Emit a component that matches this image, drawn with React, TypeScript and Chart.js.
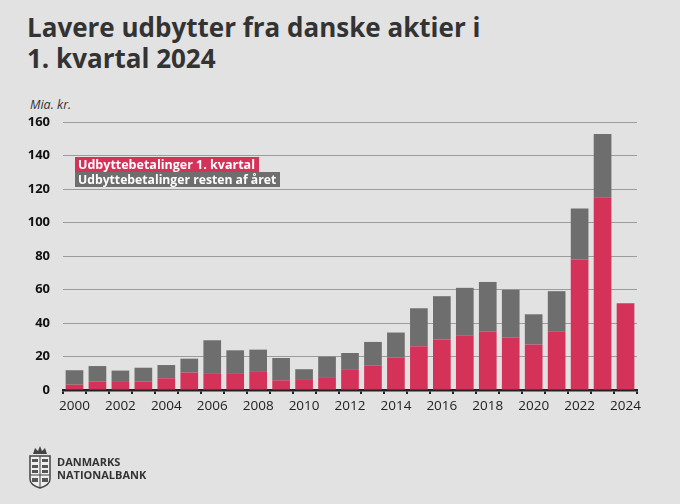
import { useEffect, useRef } from "react";
import { Chart, registerables } from "chart.js";

Chart.register(...registerables);

const years = [
  "2000", "2001", "2002", "2003", "2004", "2005", "2006", "2007", "2008", "2009",
  "2010", "2011", "2012", "2013", "2014", "2015", "2016", "2017", "2018", "2019",
  "2020", "2021", "2022", "2023", "2024",
];

// Mia. kr.
const firstQuarter = [
  3.2, 5.0, 4.8, 5.0, 7.0, 10.4, 9.6, 9.6, 10.8, 5.8,
  6.0, 7.2, 12.0, 14.5, 19.3, 26.1, 30.1, 32.7, 34.9, 31.3,
  27.1, 35.1, 77.9, 115.1, 51.8,
];
const totalYear = [
  11.8, 14.3, 11.6, 13.3, 14.9, 18.7, 29.7, 23.7, 24.1, 19.1,
  12.4, 19.9, 22.1, 28.7, 34.3, 48.8, 56.0, 61.0, 64.5, 59.8,
  45.2, 59.0, 108.4, 152.8, null,
];
const restOfYear = totalYear.map((t, i) => (t == null ? null : +(t - firstQuarter[i]).toFixed(1)));

const yTicks = [0, 20, 40, 60, 80, 100, 120, 140, 160];

const RED = "#d5325a";
const GREY = "#6d6e6d";
const BG = "#e2e2e2";
const FONT = "'Open Sans', Lato, sans-serif";

function Crest() {
  return (
    <svg width="26" height="44" viewBox="0 0 26 44">
      <path d="M6 9 L8 3 L11 6 L13 1 L15 6 L18 3 L20 9 Z" fill="#444" />
      <path d="M3 11 H23 V34 Q23 40 13 43 Q3 40 3 34 Z" fill="#eee" stroke="#444" strokeWidth="1.5" />
      <line x1="13" y1="11" x2="13" y2="42" stroke="#444" strokeWidth="1" />
      <line x1="3" y1="30" x2="23" y2="30" stroke="#444" strokeWidth="1" />
      <rect x="5" y="14" width="6" height="3" fill="#555" />
      <rect x="5" y="20" width="6" height="3" fill="#555" />
      <rect x="5" y="25" width="6" height="3" fill="#555" />
      <rect x="15" y="14" width="6" height="3" fill="#555" />
      <rect x="15" y="20" width="6" height="3" fill="#555" />
      <rect x="15" y="25" width="6" height="3" fill="#555" />
      <rect x="5" y="33" width="6" height="4" fill="#555" />
      <rect x="15" y="33" width="6" height="4" fill="#555" />
    </svg>
  );
}

export default function App() {
  const canvasRef = useRef<HTMLCanvasElement>(null);
  const chartRef = useRef<Chart | null>(null);

  useEffect(() => {
    document.body.style.margin = "0";
    if (!canvasRef.current) return;
    if (chartRef.current) chartRef.current.destroy();

    chartRef.current = new Chart(canvasRef.current, {
      type: "bar",
      data: {
        labels: years,
        datasets: [
          {
            label: "Udbyttebetalinger 1. kvartal",
            data: firstQuarter,
            backgroundColor: RED,
            barPercentage: 0.77,
            categoryPercentage: 1,
          },
          {
            label: "Udbyttebetalinger resten af året",
            data: restOfYear,
            backgroundColor: GREY,
            barPercentage: 0.77,
            categoryPercentage: 1,
          },
        ],
      },
      options: {
        animation: false,
        responsive: false,
        maintainAspectRatio: false,
        layout: { padding: { left: 0, right: 43, top: 122, bottom: 84 } },
        plugins: {
          legend: { display: false },
          tooltip: { enabled: false },
        },
        scales: {
          x: {
            stacked: true,
            afterFit: (s: any) => {
              s.height = 30;
            },
            border: { color: "#222", width: 2.5 },
            grid: {
              offset: true,
              drawOnChartArea: false,
              tickLength: 4,
              color: "#222",
              lineWidth: 2,
            },
            ticks: {
              autoSkip: false,
              maxRotation: 0,
              color: "#222",
              padding: 4,
              font: { family: FONT, size: 13.5 },
              callback: (_v: any, i: number) => (i % 2 === 0 ? years[i] : ""),
            },
          },
          y: {
            stacked: true,
            min: 0,
            max: 160,
            afterFit: (s: any) => {
              s.width = 63;
            },
            afterBuildTicks: (s: any) => {
              s.ticks = yTicks.map((v) => ({ value: v }));
            },
            border: { display: false },
            grid: {
              color: "#9c9c9c",
              lineWidth: 1,
              drawTicks: false,
            },
            ticks: {
              color: "#111",
              padding: 13,
              font: { family: FONT, size: 13, weight: "bold" },
            },
          },
        },
      },
    });

    return () => {
      if (chartRef.current) {
        chartRef.current.destroy();
        chartRef.current = null;
      }
    };
  }, []);

  const legendItem = (bg: string, text: string, top: number, fontSize: number) => (
    <div
      style={{
        position: "absolute",
        left: 75,
        top,
        background: bg,
        color: "#fff",
        fontFamily: FONT,
        fontWeight: "bold",
        fontSize,
        lineHeight: "15px",
        padding: "0 4px 0 3px",
        whiteSpace: "nowrap",
      }}
    >
      {text}
    </div>
  );

  return (
    <div
      style={{
        position: "relative",
        width: 680,
        height: 504,
        background: BG,
        overflow: "hidden",
        fontFamily: FONT,
      }}
    >
      <div
        style={{
          position: "absolute",
          left: 27,
          top: 12,
          fontSize: 26,
          fontWeight: "bold",
          lineHeight: "31px",
          color: "#333",
        }}
      >
        Lavere udbytter fra danske aktier i
        <br />
        1. kvartal 2024
      </div>
      <div
        style={{
          position: "absolute",
          left: 30,
          top: 96,
          fontSize: 12.5,
          fontStyle: "italic",
          color: "#333",
        }}
      >
        Mia. kr.
      </div>
      <canvas ref={canvasRef} width={680} height={504} style={{ position: "absolute", left: 0, top: 0 }} />
      {legendItem(RED, "Udbyttebetalinger 1. kvartal", 157, 12.5)}
      {legendItem(GREY, "Udbyttebetalinger resten af året", 172, 12.2)}
      <div style={{ position: "absolute", left: 27, top: 445 }}>
        <Crest />
      </div>
      <div
        style={{
          position: "absolute",
          left: 57,
          top: 455,
          fontSize: 11,
          fontWeight: "bold",
          lineHeight: "13px",
          color: "#333",
        }}
      >
        DANMARKS
        <br />
        NATIONALBANK
      </div>
    </div>
  );
}
